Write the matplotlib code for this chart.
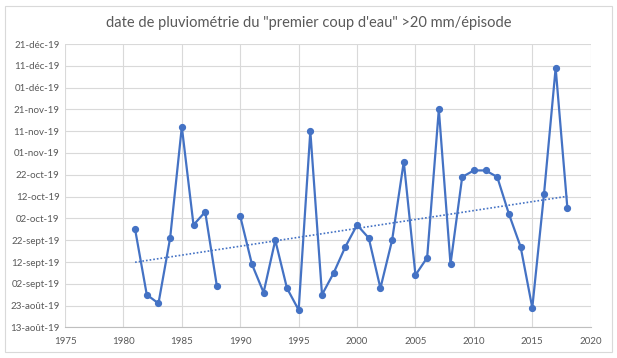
import numpy as np
import pandas as pd
import matplotlib
matplotlib.use("Agg")
import matplotlib.pyplot as plt
import matplotlib.dates as mdates
from matplotlib.patches import Rectangle

years = list(range(1981, 2019))
dates = ["2019-09-27", "2019-08-28", "2019-08-24", "2019-09-23", "2019-11-13",
         "2019-09-29", "2019-10-05", "2019-09-01", None, "2019-10-03",
         "2019-09-11", "2019-08-29", "2019-09-22", "2019-08-31", "2019-08-21",
         "2019-11-11", "2019-08-28", "2019-09-07", "2019-09-19", "2019-09-29",
         "2019-09-23", "2019-08-31", "2019-09-22", "2019-10-28", "2019-09-06",
         "2019-09-14", "2019-11-21", "2019-09-11", "2019-10-21", "2019-10-24",
         "2019-10-24", "2019-10-21", "2019-10-04", "2019-09-19", "2019-08-22",
         "2019-10-13", "2019-12-10", "2019-10-07"]

ytick_dates = ["2019-08-13", "2019-08-23", "2019-09-02", "2019-09-12", "2019-09-22",
               "2019-10-02", "2019-10-12", "2019-10-22", "2019-11-01", "2019-11-11",
               "2019-11-21", "2019-12-01", "2019-12-11", "2019-12-21"]
ytick_labels = ["13-août-19", "23-août-19", "02-sept-19", "12-sept-19", "22-sept-19",
                "02-oct-19", "12-oct-19", "22-oct-19", "01-nov-19", "11-nov-19",
                "21-nov-19", "01-déc-19", "11-déc-19", "21-déc-19"]
xticks = list(range(1975, 2021, 5))

title = "date de pluviométrie du \"premier coup d'eau\" >20 mm/épisode"

x = np.array(years, dtype=float)
y = np.array([mdates.date2num(pd.Timestamp(d)) if d else np.nan for d in dates])
yt = [mdates.date2num(pd.Timestamp(d)) for d in ytick_dates]

blue = "#4472C4"
grey_txt = "#595959"
grid = "#d9d9d9"

plt.rcParams['font.family'] = ['Lato', 'DejaVu Sans']

fig = plt.figure(figsize=(6.17, 3.58), dpi=100)
fig.patches.append(Rectangle((5 / 617, 6 / 358), 607 / 617, 346 / 358,
                             transform=fig.transFigure, fill=False,
                             edgecolor=grid, linewidth=0.8))
ax = fig.add_axes([65 / 617, 1 - 327.4 / 358, 525.7 / 617, 283.4 / 358])

ax.plot(x, y, color=blue, linewidth=1.6, marker='o', markersize=4.2, zorder=3)

# linear trend
ok = ~np.isnan(y)
k, b = np.polyfit(x[ok], y[ok], 1)
ax.plot([x[0], x[-1]], [k * x[0] + b, k * x[-1] + b], color=blue,
        linestyle=(0, (1, 1.2)), linewidth=1.2, zorder=2)

ax.set_xlim(1975, 2020)
ax.set_ylim(yt[0], yt[-1])
ax.set_xticks(xticks)
ax.set_yticks(yt)
ax.set_yticklabels(ytick_labels)
ax.grid(True, color=grid, linewidth=0.8)
ax.set_axisbelow(True)
for s in ax.spines.values():
    s.set_visible(False)
ax.spines['bottom'].set_visible(True)
ax.spines['bottom'].set_color("#bfbfbf")
ax.tick_params(length=0, labelsize=7, labelcolor=grey_txt, pad=4)
ax.tick_params(axis='x', pad=7)

fig.text(0.5, 1 - 23 / 358, title, ha='center', va='center',
         fontsize=10.5, color=grey_txt)

fig.savefig("out.png", dpi=100)
